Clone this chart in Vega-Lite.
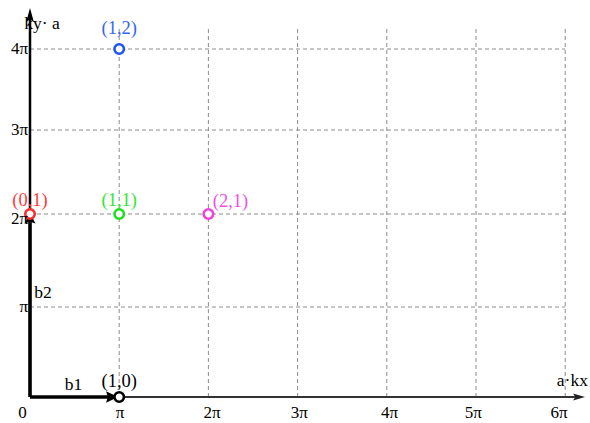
{
  "$schema": "https://vega.github.io/schema/vega-lite/v6.json",
  "width": 560,
  "height": 397,
  "autosize": {"type": "none"},
  "padding": {"left": 30, "top": 0, "right": 0, "bottom": 26},
  "background": "white",
  "config": {"view": {"stroke": null}, "text": {"font": "Liberation Serif"}},
  "datasets": {
    "vgrid": [{"x": 1, "y": 0, "y2": 4.25}, {"x": 2, "y": 0, "y2": 4.25}, {"x": 3, "y": 0, "y2": 4.25}, {"x": 4, "y": 0, "y2": 4.25}, {"x": 5, "y": 0, "y2": 4.25}, {"x": 6, "y": 0, "y2": 4.25}],
    "hgrid": [{"y": 1, "x": 0, "x2": 6}, {"y": 2, "x": 0, "x2": 6}, {"y": 3, "x": 0, "x2": 6}, {"y": 4, "x": 0, "x2": 6}],
    "xaxis": [{"x": 0, "x2": 6.16, "y": 0}],
    "xhead": [{"x": 6.155, "y": 0}],
    "yaxis": [{"x": 0, "y": 0, "y2": 4.36}],
    "yhead": [{"x": 0, "y": 4.39}],
    "b1": [{"x": 0, "x2": 0.88, "y": 0}],
    "b1head": [{"x": 0.92, "y": 0}],
    "b2": [{"x": 0, "y": 0, "y2": 1.92}],
    "b2head": [{"x": 0, "y": 1.955}],
    "points": [
      {"x": 1, "y": 0, "label": "(1,0)", "lx": 1, "ly": 0.183},
      {"x": 0, "y": 2, "label": "(0,1)", "lx": 0, "ly": 2.167},
      {"x": 1, "y": 2, "label": "(1,1)", "lx": 1, "ly": 2.167},
      {"x": 2, "y": 2, "label": "(2,1)", "lx": 2.247, "ly": 2.155},
      {"x": 1, "y": 4, "label": "(1,2)", "lx": 1, "ly": 4.247}
    ],
    "xticks": [
      {"lx": -0.084, "ly": 0, "text": "0"},
      {"lx": 1.01, "ly": 0, "text": "π"},
      {"lx": 2.04, "ly": 0, "text": "2π"},
      {"lx": 3.02, "ly": 0, "text": "3π"},
      {"lx": 4.03, "ly": 0, "text": "4π"},
      {"lx": 4.97, "ly": 0, "text": "5π"},
      {"lx": 5.93, "ly": 0, "text": "6π"}
    ],
    "yticks": [
      {"lx": 0, "ly": 1, "text": "π"},
      {"lx": 0, "ly": 1.946, "text": "2π"},
      {"lx": 0, "ly": 3, "text": "3π"},
      {"lx": 0, "ly": 4, "text": "4π"}
    ],
    "titles": [
      {"lx": 0.135, "ly": 4.287, "text": "ky· a", "align": "left"},
      {"lx": 0.488, "ly": 0.133, "text": "b1", "align": "center"},
      {"lx": 0.146, "ly": 1.15, "text": "b2", "align": "center"},
      {"lx": 6.08, "ly": 0.178, "text": "a·kx", "align": "center"}
    ]
  },
  "layer": [
    {
      "data": {"name": "vgrid"},
      "mark": {"type": "rule", "color": "#8c8c8c", "strokeWidth": 1, "strokeDash": [4, 3]},
      "encoding": {
        "x": {"field": "x", "type": "quantitative", "scale": {"domain": [0, 6.278], "nice": false, "zero": false}, "axis": null},
        "y": {"field": "y", "type": "quantitative", "scale": {"domain": [0, 1, 2, 3, 4, 5], "range": [397, 307, 214, 130, 49, -38], "nice": false, "zero": false}, "axis": null},
        "y2": {"field": "y2"}
      }
    },
    {
      "data": {"name": "hgrid"},
      "mark": {"type": "rule", "color": "#8c8c8c", "strokeWidth": 1, "strokeDash": [4, 3]},
      "encoding": {
        "x": {"field": "x", "type": "quantitative"},
        "x2": {"field": "x2"},
        "y": {"field": "y", "type": "quantitative"}
      }
    },
    {
      "data": {"name": "xaxis"},
      "mark": {"type": "rule", "color": "#333333", "strokeWidth": 2},
      "encoding": {
        "x": {"field": "x", "type": "quantitative"},
        "x2": {"field": "x2"},
        "y": {"field": "y", "type": "quantitative"}
      }
    },
    {
      "data": {"name": "xhead"},
      "mark": {"type": "point", "shape": "M1,0 L-1,-0.6 L-0.6,0 L-1,0.6 Z", "size": 144, "filled": true, "color": "#222222", "opacity": 1},
      "encoding": {
        "x": {"field": "x", "type": "quantitative"},
        "y": {"field": "y", "type": "quantitative"}
      }
    },
    {
      "data": {"name": "yaxis"},
      "mark": {"type": "rule", "color": "#000000", "strokeWidth": 2.5},
      "encoding": {
        "x": {"field": "x", "type": "quantitative"},
        "y": {"field": "y", "type": "quantitative"},
        "y2": {"field": "y2"}
      }
    },
    {
      "data": {"name": "yhead"},
      "mark": {"type": "point", "shape": "M0,-1 L-0.55,1 L0,0.6 L0.55,1 Z", "size": 196, "filled": true, "color": "#000000", "opacity": 1},
      "encoding": {
        "x": {"field": "x", "type": "quantitative"},
        "y": {"field": "y", "type": "quantitative"}
      }
    },
    {
      "data": {"name": "b1"},
      "mark": {"type": "rule", "color": "#000000", "strokeWidth": 3.5},
      "encoding": {
        "x": {"field": "x", "type": "quantitative"},
        "x2": {"field": "x2"},
        "y": {"field": "y", "type": "quantitative"}
      }
    },
    {
      "data": {"name": "b1head"},
      "mark": {"type": "point", "shape": "M1,0 L-1,-0.95 L-0.7,0 L-1,0.95 Z", "size": 144, "filled": true, "color": "#000000", "opacity": 1},
      "encoding": {
        "x": {"field": "x", "type": "quantitative"},
        "y": {"field": "y", "type": "quantitative"}
      }
    },
    {
      "data": {"name": "b2"},
      "mark": {"type": "rule", "color": "#000000", "strokeWidth": 3.5},
      "encoding": {
        "x": {"field": "x", "type": "quantitative"},
        "y": {"field": "y", "type": "quantitative"},
        "y2": {"field": "y2"}
      }
    },
    {
      "data": {"name": "b2head"},
      "mark": {"type": "point", "shape": "M0,-1 L-1.05,1 L0,0.7 L1.05,1 Z", "size": 110, "filled": true, "color": "#000000", "opacity": 1},
      "encoding": {
        "x": {"field": "x", "type": "quantitative"},
        "y": {"field": "y", "type": "quantitative"}
      }
    },
    {
      "data": {"name": "points"},
      "mark": {"type": "circle", "fill": "white", "fillOpacity": 1, "strokeWidth": 2.6, "size": 90, "opacity": 1},
      "encoding": {
        "x": {"field": "x", "type": "quantitative"},
        "y": {"field": "y", "type": "quantitative"},
        "stroke": {"field": "label", "type": "nominal", "legend": null, "scale": {"domain": ["(1,0)", "(0,1)", "(1,1)", "(2,1)", "(1,2)"], "range": ["#000000", "#ff2a2a", "#22dd22", "#ee44dd", "#2255ee"]}}
      }
    },
    {
      "data": {"name": "points"},
      "mark": {"type": "text", "fontSize": 18.5, "align": "center", "baseline": "middle"},
      "encoding": {
        "x": {"field": "lx", "type": "quantitative"},
        "y": {"field": "ly", "type": "quantitative"},
        "text": {"field": "label"},
        "color": {"field": "label", "type": "nominal", "legend": null, "scale": {"domain": ["(1,0)", "(0,1)", "(1,1)", "(2,1)", "(1,2)"], "range": ["#000000", "#ff3b3b", "#33e633", "#f050e6", "#3366f5"]}}
      }
    },
    {
      "data": {"name": "xticks"},
      "mark": {"type": "text", "fontSize": 17, "align": "center", "baseline": "middle", "dy": 16, "color": "#000000"},
      "encoding": {
        "x": {"field": "lx", "type": "quantitative"},
        "y": {"field": "ly", "type": "quantitative"},
        "text": {"field": "text"}
      }
    },
    {
      "data": {"name": "yticks"},
      "mark": {"type": "text", "fontSize": 17, "align": "right", "baseline": "middle", "dx": -2, "color": "#000000"},
      "encoding": {
        "x": {"field": "lx", "type": "quantitative"},
        "y": {"field": "ly", "type": "quantitative"},
        "text": {"field": "text"}
      }
    },
    {
      "data": {"name": "titles"},
      "mark": {"type": "text", "fontSize": 17.5, "baseline": "middle", "color": "#000000"},
      "encoding": {
        "x": {"field": "lx", "type": "quantitative"},
        "y": {"field": "ly", "type": "quantitative"},
        "text": {"field": "text"},
        "align": {"field": "align", "type": "nominal", "scale": null}
      }
    }
  ]
}
